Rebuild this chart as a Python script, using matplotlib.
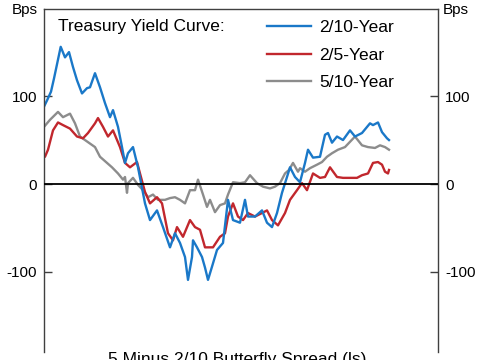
import matplotlib
matplotlib.use("Agg")
import matplotlib.pyplot as plt

plt.rcParams['font.family'] = ['Liberation Sans', 'DejaVu Sans']

# (time index, spread in bps)
blue_2_10 = [(0, 88), (3, 95), (7, 105), (10, 120), (16.7, 156), (21, 144), (25, 150), (29, 133),
             (33, 118), (38, 103), (43, 109), (46, 110), (51, 126), (56, 110), (61, 92), (66, 76),
             (69, 84), (74, 65), (78, 42), (81, 24), (84, 35), (89, 42), (94, 19), (101, -22),
             (106, -41), (113, -30), (119, -49), (126, -72), (131, -56), (136, -67), (141, -83),
             (144, -109), (148, -83), (149, -64), (153, -72), (158, -83), (161, -95), (164, -109),
             (168, -94), (173, -75), (179, -67), (184, -18), (189, -41), (196, -44), (201, -18),
             (204, -37), (211, -37), (218, -30), (223, -44), (228, -49), (233, -33), (238, -10),
             (243, 8), (246, 19), (251, 8), (256, 2), (261, 24), (264, 39), (269, 30), (276, 31),
             (281, 56), (284, 58), (288, 47), (293, 54), (299, 50), (306, 61), (311, 54),
             (318, 58), (326, 69), (329, 67), (334, 70), (338, 59), (343, 52), (345, 50)]

red_2_5 = [(0, 31), (1, 31), (4, 39), (9, 61), (14, 70), (19, 67), (26, 63), (33, 54), (39, 52),
           (44, 58), (51, 69), (54, 75), (59, 65), (64, 54), (69, 61), (76, 42), (81, 24),
           (86, 19), (93, 25), (96, 12), (101, -9), (106, -22), (113, -15), (118, -22),
           (124, -56), (129, -64), (133, -49), (139, -60), (146, -41), (151, -49), (156, -52),
           (161, -72), (165, -72), (169, -72), (176, -60), (181, -56), (184, -37), (189, -22),
           (194, -37), (199, -41), (204, -33), (211, -37), (218, -33), (223, -30), (228, -41),
           (234, -47), (241, -33), (246, -18), (253, -7), (258, 1), (263, -7), (269, 12),
           (276, 7), (281, 8), (286, 19), (293, 8), (299, 7), (306, 7), (313, 7), (318, 10),
           (324, 12), (329, 24), (334, 25), (338, 22), (341, 14), (344, 12), (345, 16)]

grey_5_10 = [(0, 65), (6, 73), (14, 82), (19, 76), (26, 80), (31, 69), (36, 54), (41, 50),
             (46, 46), (51, 42), (56, 31), (63, 24), (68, 19), (74, 12), (79, 5), (81, 8),
             (83, -10), (84, 1), (89, 7), (94, -1), (99, -7), (104, -15), (109, -12), (114, -18),
             (121, -18), (126, -16), (131, -15), (136, -18), (141, -22), (146, -7), (151, -7),
             (154, 5), (159, -12), (163, -26), (166, -18), (171, -32), (176, -24), (181, -22),
             (184, -12), (189, 2), (196, 1), (201, 2), (206, 10), (213, 1), (219, -3), (226, -5),
             (231, -3), (236, 1), (241, 12), (245, 16), (249, 24), (254, 14), (256, 18),
             (261, 14), (266, 18), (273, 22), (278, 25), (283, 31), (288, 35), (294, 39),
             (301, 42), (306, 48), (311, 54), (318, 44), (324, 42), (331, 41), (336, 44),
             (341, 42), (345, 39)]

series = [("2/10-Year", blue_2_10, "#1a78c8"),
          ("2/5-Year", red_2_5, "#c1272d"),
          ("5/10-Year", grey_5_10, "#8c8c8c")]

W, H = 485, 360
fig = plt.figure(figsize=(W / 100, H / 100), dpi=100)
ax = fig.add_axes([44 / W, 1 - 352 / H, (438 - 44) / W, (352 - 9) / H])

handles = {}
for name, pts, c in reversed(series):
    t, v = zip(*pts)
    h, = ax.plot(t, v, color=c, lw=1.7, label=name, solid_joinstyle='round')
    handles[name] = h
handles = [handles[name] for name, _, _ in series]

ax.axhline(0, color='black', lw=1.3, zorder=5)
ax.set_xlim(0, 394)
ax.set_ylim(-191, 199)
ax.set_xticks([])
ax.set_yticks([-100, 0, 100])
ax.set_yticklabels(['-100', '0', '100'])
ax.tick_params(axis='y', direction='in', length=6, width=1, color='#404040',
               labelsize=11, left=True, right=True, labelleft=True, labelright=True, pad=5)
for side in ['left', 'right', 'top']:
    ax.spines[side].set_color('#404040')
    ax.spines[side].set_linewidth(1.0)
ax.spines['bottom'].set_visible(False)

fig.text(12 / W, 1 - 10 / H, "Bps", fontsize=11, va='center', ha='left')
fig.text(443 / W, 1 - 10 / H, "Bps", fontsize=11, va='center', ha='left')
fig.text(58 / W, 1 - 26 / H, "Treasury Yield Curve:", fontsize=12.5, va='center', ha='left')

leg = fig.legend(handles=handles, loc='upper left', bbox_to_anchor=(267 / W, 1 - 20 / H),
                 frameon=False, fontsize=12.5, handlelength=2.55, handletextpad=0.45,
                 labelspacing=0.72, borderaxespad=0, borderpad=0)

fig.text(237 / W, 1 - 352 / H, "5 Minus 2/10 Butterfly Spread (ls)", fontsize=12.5,
         va='top', ha='center')

fig.savefig("out.png", dpi=100)
